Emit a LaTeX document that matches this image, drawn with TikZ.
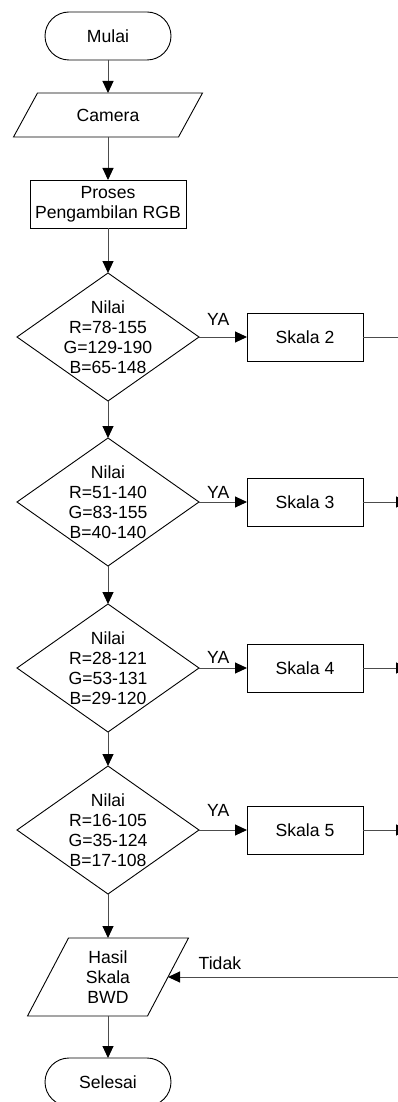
\documentclass[tikz,border=0pt]{standalone}
\usepackage{fontspec}
\setmainfont{Liberation Sans}
\usetikzlibrary{shapes.geometric,arrows.meta}
\tikzset{
  fnt/.style={font=\fontsize{17.6}{20}\selectfont},
  base/.style={fnt, draw=black, line width=0.9pt, align=center, inner sep=0pt, outer sep=0pt},
  term/.style={base, rounded corners=24pt, minimum width=126pt, minimum height=48pt},
  proc/.style={base, minimum width=116pt, minimum height=48pt},
  io/.style={fnt, align=center, inner sep=0pt, outer sep=0pt},
  iobox/.style={draw=black, line width=0.9pt},
  dec/.style={base, diamond, minimum width=182pt, minimum height=128pt},
  txt/.style={fnt, align=center, inner sep=0pt},
  conn/.style={draw=black!70, line width=1pt, -{Triangle[length=12pt,width=11pt,color=black]}},
  lbl/.style={fnt, inner sep=0pt, anchor=base},
}
\begin{document}
\begin{tikzpicture}[x=1pt,y=-1pt]
\useasboundingbox (0,0) rectangle (398,1102);
\clip (0,0) rectangle (398,1102);
\fill[white] (0,0) rectangle (398,1102);

\node[term] (start) at (108,36) {Mulai};
\node[io, minimum width=165pt, minimum height=44pt] (cam) at (108,115) {Camera};
\draw[iobox] ([xshift=12pt]cam.north west) -- ([xshift=12pt]cam.north east)
  -- ([xshift=-12pt]cam.south east) -- ([xshift=-12pt]cam.south west) -- cycle;
\node[proc, minimum width=156pt] (proc) at (108,204) {Proses\\Pengambilan RGB};

\node[dec] (d1) at (108,337) {};
\node[txt] (t1) at (d1) {Nilai\\R=78-155\\G=129-190\\B=65-148};
\node[dec] (d2) at (108,502) {};
\node[txt] (t2) at (d2) {Nilai\\R=51-140\\G=83-155\\B=40-140};
\node[dec] (d3) at (108,668) {};
\node[txt] (t3) at (d3) {Nilai\\R=28-121\\G=53-131\\B=29-120};
\node[dec] (d4) at (108,830) {};
\node[txt] (t4) at (d4) {Nilai\\R=16-105\\G=35-124\\B=17-108};

\node[proc] (s2) at (305,337) {Skala 2};
\node[proc] (s3) at (305,502) {Skala 3};
\node[proc] (s4) at (305,668) {Skala 4};
\node[proc] (s5) at (305,830) {Skala 5};

\node[io, minimum width=120pt, minimum height=78pt] (hasil) at (108,977) {Hasil\\Skala\\BWD};
\draw[iobox] ([xshift=20.5pt]hasil.north west) -- ([xshift=20.5pt]hasil.north east)
  -- ([xshift=-20.5pt]hasil.south east) -- ([xshift=-20.5pt]hasil.south west) -- cycle;
\node[term] (end) at (108,1082) {Selesai};

\coordinate (e2) at (424,337);
\coordinate (e3) at (408,502);
\coordinate (e4) at (408,668);
\coordinate (e5) at (408,830);
\coordinate (tst) at (420,977);

\draw[conn] (start) -- (cam);
\draw[conn] (cam) -- (proc);
\draw[conn] (proc) -- (d1.north);
\draw[conn] (d1.south) -- (d2.north);
\draw[conn] (d2.south) -- (d3.north);
\draw[conn] (d3.south) -- (d4.north);
\draw[conn] (d4.south) -- (hasil);
\draw[conn] (hasil) -- (end);

\draw[conn] (d1.east) -- node[lbl, pos=0.4, yshift=12pt] {YA} (s2.west);
\draw[conn] (d2.east) -- node[lbl, pos=0.4, yshift=4pt] {YA} (s3.west);
\draw[conn] (d3.east) -- node[lbl, pos=0.4, yshift=5pt] {YA} (s4.west);
\draw[conn] (d4.east) -- node[lbl, pos=0.4, yshift=14pt] {YA} (s5.west);

\draw[conn] (s2.east) -- (e2);
\draw[conn] (s3.east) -- (e3);
\draw[conn] (s4.east) -- (e4);
\draw[conn] (s5.east) -- (e5);

\draw[conn] (tst) -- node[lbl, pos=0.794, yshift=8pt] {Tidak} (hasil);
\end{tikzpicture}
\end{document}
